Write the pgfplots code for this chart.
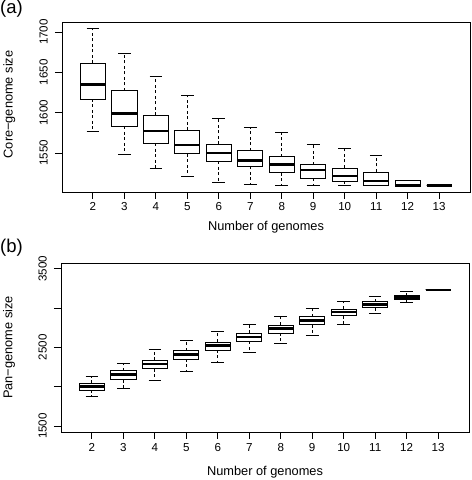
\documentclass[border=0pt]{standalone}
\usepackage{pgfplots}
\pgfplotsset{compat=1.18}
\usepgfplotslibrary{statistics}
\usepackage{fontspec}
\setmainfont{Liberation Sans}

\pgfplotsset{
  rbox/.style={
    scale only axis, width=408bp,
    xmin=1.02, xmax=13.98,
    xtick={2,...,13},
    tick align=outside, tick pos=left,
    major tick length=7bp,
    axis line style={black, line width=0.8bp},
    tick style={black, line width=0.8bp},
    /pgf/number format/assume math mode=true,
    /pgf/number format/set thousands separator={},
    scaled y ticks=false,
    tick label style={font=\fontsize{11.6bp}{14bp}\selectfont},
    label style={font=\fontsize{12.8bp}{15bp}\selectfont},
    yticklabel style={rotate=90, anchor=south, inner sep=0pt},
    yticklabel shift=7bp,
    xticklabel style={anchor=north, inner sep=0pt},
    boxplot/draw direction=y,
    boxplot/box extend=0.8,
    boxplot/whisker extend=0.4,
    boxplot/every box/.style={draw=black, line width=0.8bp, fill=white},
    boxplot/every median/.style={draw=black, line width=2.6bp},
    boxplot/every whisker/.style={draw=black, line width=0.8bp, dash pattern=on 3bp off 2.5bp},
    boxplot/draw/lower whisker/.code={
      \draw[black, line width=0.8bp, dash pattern=on 3bp off 2.5bp]
        (boxplot whisker cs:\pgfplotsboxplotvalue{lower quartile},0.5) -- (boxplot whisker cs:\pgfplotsboxplotvalue{lower whisker},0.5);
      \draw[black, line width=0.8bp, solid]
        (boxplot whisker cs:\pgfplotsboxplotvalue{lower whisker},0) -- (boxplot whisker cs:\pgfplotsboxplotvalue{lower whisker},1);
    },
    boxplot/draw/upper whisker/.code={
      \draw[black, line width=0.8bp, dash pattern=on 3bp off 2.5bp]
        (boxplot whisker cs:\pgfplotsboxplotvalue{upper quartile},0.5) -- (boxplot whisker cs:\pgfplotsboxplotvalue{upper whisker},0.5);
      \draw[black, line width=0.8bp, solid]
        (boxplot whisker cs:\pgfplotsboxplotvalue{upper whisker},0) -- (boxplot whisker cs:\pgfplotsboxplotvalue{upper whisker},1);
    },
  },
}

\begin{document}
\begin{tikzpicture}
\useasboundingbox (0,0) rectangle (472bp,480bp);

\node[anchor=north west, inner sep=0pt, font=\fontsize{18.5bp}{20bp}\selectfont] at (0bp,480bp) {(a)};
\node[anchor=north west, inner sep=0pt, font=\fontsize{18.5bp}{20bp}\selectfont] at (0bp,241bp) {(b)};

% ---------------- (a) core genome ----------------
\begin{axis}[rbox,
  at={(62bp,288bp)}, anchor=south west, height=170bp,
  ymin=1501.6, ymax=1712.4,
  ytick={1550,1600,1650,1700},
  xticklabel shift=3bp,
  xlabel={Number of genomes},
  ylabel={Core−genome size},
  xlabel style={at={(axis description cs:0.5,-0.224)}, anchor=base},
  ylabel style={at={(axis description cs:-0.1213,0.515)}, anchor=base},
]
\addplot[black, solid, boxplot prepared={draw position=2, lower whisker=1577, lower quartile=1617, median=1635, upper quartile=1661, upper whisker=1704}] coordinates {};
\addplot[black, solid, boxplot prepared={draw position=3, lower whisker=1548, lower quartile=1583, median=1599, upper quartile=1627, upper whisker=1673}] coordinates {};
\addplot[black, solid, boxplot prepared={draw position=4, lower whisker=1531, lower quartile=1562, median=1577, upper quartile=1597, upper whisker=1645}] coordinates {};
\addplot[black, solid, boxplot prepared={draw position=5, lower whisker=1521, lower quartile=1549, median=1560, upper quartile=1578, upper whisker=1621}] coordinates {};
\addplot[black, solid, boxplot prepared={draw position=6, lower whisker=1514, lower quartile=1540, median=1550, upper quartile=1561, upper whisker=1593}] coordinates {};
\addplot[black, solid, boxplot prepared={draw position=7, lower whisker=1511.5, lower quartile=1533.5, median=1541, upper quartile=1553, upper whisker=1581.5}] coordinates {};
\addplot[black, solid, boxplot prepared={draw position=8, lower whisker=1509.4, lower quartile=1525.5, median=1535.5, upper quartile=1545.5, upper whisker=1575.3}] coordinates {};
\addplot[black, solid, boxplot prepared={draw position=9, lower whisker=1509.4, lower quartile=1518.6, median=1528.7, upper quartile=1535.5, upper whisker=1560.5}] coordinates {};
\addplot[black, solid, boxplot prepared={draw position=10, lower whisker=1509.4, lower quartile=1515.1, median=1521.2, upper quartile=1531.4, upper whisker=1555.2}] coordinates {};
\addplot[black, solid, boxplot prepared={draw position=11, lower whisker=1509.4, lower quartile=1510.1, median=1515.4, upper quartile=1526.5, upper whisker=1547.6}] coordinates {};
\addplot[black, solid, boxplot prepared={draw position=12, lower whisker=1509.0, lower quartile=1509.0, median=1509.6, upper quartile=1515.5, upper whisker=1515.5}] coordinates {};
\addplot[black, solid, boxplot prepared={draw position=13, lower whisker=1509.4, lower quartile=1509.4, median=1509.4, upper quartile=1509.4, upper whisker=1509.4}] coordinates {};
\end{axis}

% ---------------- (b) pan genome ----------------
\begin{axis}[rbox,
  at={(61bp,48bp)}, anchor=south west, height=169bp,
  ymin=1424, ymax=3572,
  ytick={1500,2000,2500,3000,3500},
  yticklabels={1500,{},2500,{},3500},
  xticklabel shift=4bp,
  xlabel={Number of genomes},
  ylabel={Pan−genome size},
  xlabel style={at={(axis description cs:0.5,-0.26)}, anchor=base},
  ylabel style={at={(axis description cs:-0.1189,0.5)}, anchor=base},
]
\addplot[black, solid, boxplot prepared={draw position=2, lower whisker=1874, lower quartile=1959, median=2001, upper quartile=2043, upper whisker=2130}] coordinates {};
\addplot[black, solid, boxplot prepared={draw position=3, lower whisker=1975, lower quartile=2090, median=2157, upper quartile=2204, upper whisker=2299}] coordinates {};
\addplot[black, solid, boxplot prepared={draw position=4, lower whisker=2077, lower quartile=2227, median=2289, upper quartile=2335, upper whisker=2471}] coordinates {};
\addplot[black, solid, boxplot prepared={draw position=5, lower whisker=2195, lower quartile=2352, median=2407, upper quartile=2458, upper whisker=2589}] coordinates {};
\addplot[black, solid, boxplot prepared={draw position=6, lower whisker=2314, lower quartile=2467, median=2522, upper quartile=2569, upper whisker=2703}] coordinates {};
\addplot[black, solid, boxplot prepared={draw position=7, lower whisker=2433, lower quartile=2576, median=2630, upper quartile=2678, upper whisker=2797}] coordinates {};
\addplot[black, solid, boxplot prepared={draw position=8, lower whisker=2556, lower quartile=2683, median=2738, upper quartile=2784, upper whisker=2894}] coordinates {};
\addplot[black, solid, boxplot prepared={draw position=9, lower whisker=2657, lower quartile=2788, median=2843, upper quartile=2890, upper whisker=2992}] coordinates {};
\addplot[black, solid, boxplot prepared={draw position=10, lower whisker=2797, lower quartile=2901, median=2948, upper quartile=2988, upper whisker=3079}] coordinates {};
\addplot[black, solid, boxplot prepared={draw position=11, lower whisker=2937, lower quartile=3002, median=3043, upper quartile=3079, upper whisker=3148}] coordinates {};
\addplot[black, solid, boxplot prepared={draw position=12, lower whisker=3072, lower quartile=3106, median=3131, upper quartile=3155, upper whisker=3206}] coordinates {};
\addplot[black, solid, boxplot prepared={draw position=13, lower whisker=3231, lower quartile=3231, median=3231, upper quartile=3231, upper whisker=3231}] coordinates {};
\end{axis}
\end{tikzpicture}
\end{document}
